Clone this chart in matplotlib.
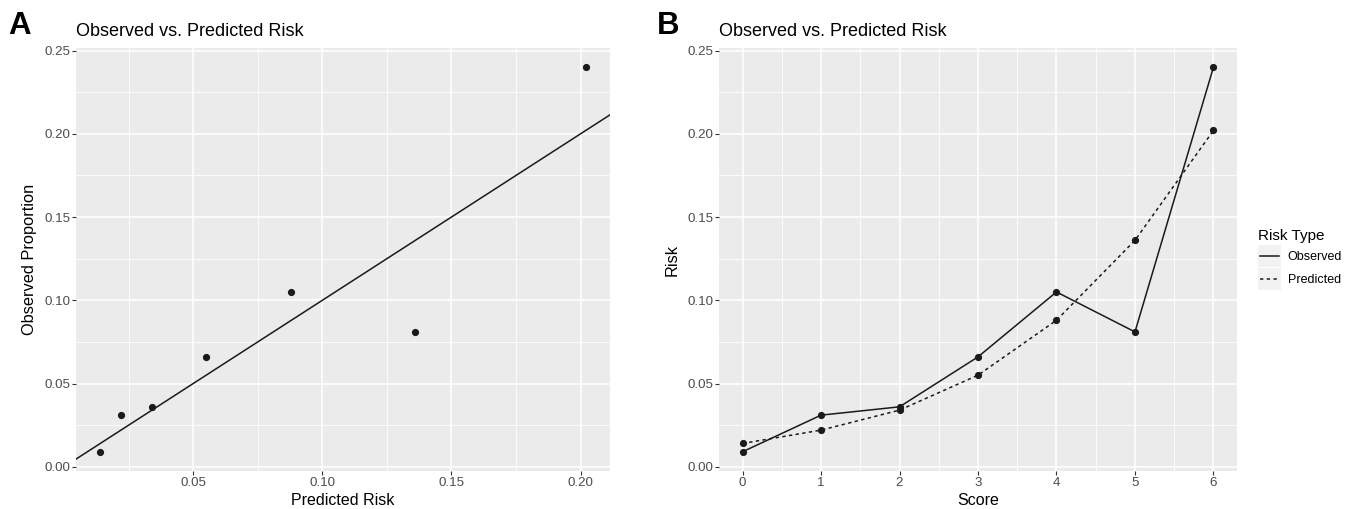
import matplotlib
matplotlib.use("Agg")
import matplotlib.pyplot as plt
from matplotlib.legend_handler import HandlerLine2D
from matplotlib.patches import Rectangle
from matplotlib.lines import Line2D
from matplotlib.ticker import FormatStrFormatter, MultipleLocator

# ---- data ----
score = [0, 1, 2, 3, 4, 5, 6]
observed = [0.009, 0.031, 0.036, 0.066, 0.105, 0.081, 0.240]
predicted = [0.014, 0.022, 0.034, 0.055, 0.088, 0.136, 0.202]
title_text = "Observed vs. Predicted Risk"
legend_title = "Risk Type"
series_names = ["Observed", "Predicted"]

plt.rcParams['font.family'] = ['Liberation Sans', 'DejaVu Sans']

W, H = 1363, 509
fig = plt.figure(figsize=(W / 100, H / 100), dpi=100)
fig.patch.set_facecolor('white')


def px_axes(x0, x1, y0, y1):
    return fig.add_axes([x0 / W, 1 - y1 / H, (x1 - x0) / W, (y1 - y0) / H])


def expand(vals, frac=0.05):
    lo, hi = min(vals), max(vals)
    r = hi - lo
    return lo - frac * r, hi + frac * r


def style_gg(ax):
    ax.set_facecolor('#EBEBEB')
    for s in ax.spines.values():
        s.set_visible(False)
    ax.grid(which='major', color='white', linewidth=1.1)
    ax.grid(which='minor', color='white', linewidth=0.55)
    ax.set_axisbelow(True)
    ax.tick_params(which='major', direction='out', length=2.6, width=0.8,
                   color='#333333', labelcolor='#4D4D4D', labelsize=9.6, pad=1.6)
    ax.tick_params(which='minor', length=0)
    ax.yaxis.set_major_locator(MultipleLocator(0.05))
    ax.yaxis.set_minor_locator(MultipleLocator(0.025))
    ax.yaxis.set_major_formatter(FormatStrFormatter('%.2f'))


ylims = expand(observed + predicted)

# ---- Panel A ----
axA = px_axes(76, 610, 48, 471)
style_gg(axA)
axA.set_xlim(*expand(predicted))
axA.set_ylim(*ylims)
axA.xaxis.set_major_locator(MultipleLocator(0.05))
axA.xaxis.set_minor_locator(MultipleLocator(0.025))
axA.xaxis.set_major_formatter(FormatStrFormatter('%.2f'))
axA.axline((0, 0), slope=1, color='#1a1a1a', linewidth=1.1, zorder=2)
axA.scatter(predicted, observed, s=27, color='#1a1a1a', zorder=3, linewidths=0)
axA.set_xlabel("Predicted Risk", fontsize=11.5, labelpad=3)
axA.set_ylabel("Observed Proportion", fontsize=11.8, labelpad=5)
axA.set_title(title_text, loc='left', fontsize=13, pad=8.5)

# ---- Panel B ----
axB = px_axes(719, 1237, 48, 471)
style_gg(axB)
axB.set_xlim(*expand(score))
axB.set_ylim(*ylims)
axB.xaxis.set_major_locator(MultipleLocator(1))
axB.xaxis.set_minor_locator(MultipleLocator(0.5))
axB.xaxis.set_major_formatter(FormatStrFormatter('%d'))
lo, = axB.plot(score, observed, color='#1a1a1a', linewidth=1.1, linestyle='-',
               label=series_names[0], zorder=2)
lp, = axB.plot(score, predicted, color='#1a1a1a', linewidth=1.1,
               linestyle=(0, (2.2, 2.2)), label=series_names[1], zorder=2)
axB.scatter(score, observed, s=27, color='#1a1a1a', zorder=3, linewidths=0)
axB.scatter(score, predicted, s=27, color='#1a1a1a', zorder=3, linewidths=0)
axB.set_xlabel("Score", fontsize=11.5, labelpad=3)
axB.set_ylabel("Risk", fontsize=11.8, labelpad=5)
axB.set_title(title_text, loc='left', fontsize=13, pad=8.5)


class KeyHandler(HandlerLine2D):
    def create_artists(self, legend, orig_handle, xdescent, ydescent,
                       width, height, fontsize, trans):
        rect = Rectangle((-xdescent, -ydescent), width, height,
                         facecolor='#F2F2F2', edgecolor='none', transform=trans)
        y = -ydescent + height / 2
        ln = Line2D([-xdescent + width * 0.1, -xdescent + width * 0.9], [y, y])
        ln.update_from(orig_handle)
        ln.set_marker('None')
        ln.set_clip_on(False)
        ln.set_clip_box(None)
        ln.set_transform(trans)
        return [rect, ln]


leg = axB.legend(handles=[lo, lp], title=legend_title, loc='center left',
                 bbox_to_anchor=(1.04, 0.5), frameon=False, fontsize=9,
                 title_fontsize=11, handlelength=1.85, handleheight=2.3,
                 handletextpad=0.55, labelspacing=0.15, borderpad=0,
                 borderaxespad=0, alignment='left',
                 handler_map={Line2D: KeyHandler()})

fig.text(8 / W, 1 - 34 / H, "A", fontsize=22.5, fontweight='bold', va='baseline', ha='left')
fig.text(657 / W, 1 - 34 / H, "B", fontsize=22.5, fontweight='bold', va='baseline', ha='left')

fig.savefig("out.png", dpi=100)
